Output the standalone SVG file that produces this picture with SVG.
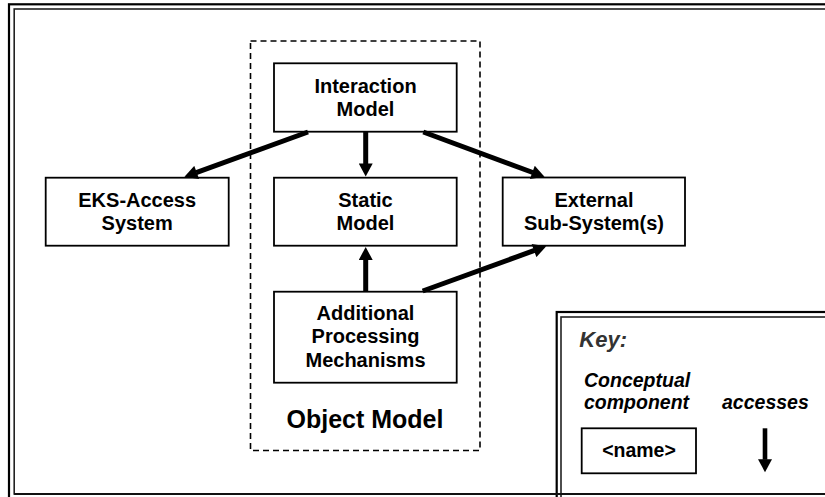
<svg xmlns="http://www.w3.org/2000/svg" width="825" height="497" viewBox="0 0 825 497">
  <defs>
    <style>
      .frame-outer { fill: none; stroke: #000; stroke-width: 2.2; }
      .frame-inner { fill: none; stroke: #222; stroke-width: 1.6; }
      .node rect { fill: #fff; stroke: #000; stroke-width: 1.8; }
      .label { font-family: "Liberation Sans", Arial, Helvetica, sans-serif; font-weight: bold; font-size: 20px; fill: #000; text-anchor: middle; }
      .group-box { fill: none; stroke: #000; stroke-width: 1.6; stroke-dasharray: 6 4; }
      .group-label { font-family: "Liberation Sans", Arial, Helvetica, sans-serif; font-weight: bold; font-size: 25px; fill: #000; text-anchor: middle; }
      .edge { stroke: #000; stroke-width: 5; fill: none; marker-end: url(#head); }
      .key-title { font-family: "Liberation Sans", Arial, Helvetica, sans-serif; font-weight: bold; font-style: italic; font-size: 22px; fill: #333; }
      .key-text { font-family: "Liberation Sans", Arial, Helvetica, sans-serif; font-weight: bold; font-style: italic; font-size: 19.5px; fill: #000; }
    </style>
    <marker id="head" markerUnits="userSpaceOnUse" markerWidth="14" markerHeight="14" viewBox="0 0 13 14" refX="0.5" refY="7" orient="auto">
      <path d="M0,0 L13,7 L0,14 Z" fill="#000"/>
    </marker>
  </defs>

  <rect width="825" height="497" fill="#fff"/>

  <!-- double-line page frame (runs off the right and bottom edges) -->
  <rect class="frame-outer" x="9" y="4.3" width="900" height="600"/>
  <rect class="frame-inner" x="14.2" y="9" width="900" height="485"/>

  <!-- Object Model grouping -->
  <g id="object-model">
    <rect class="group-box" x="250.5" y="41" width="229.5" height="409.5"/>
    <text class="group-label" x="365" y="428">Object Model</text>
  </g>

  <g id="interaction-model" class="node">
    <rect x="274" y="63.3" width="182.7" height="68.4"/>
    <text class="label" x="365.5" y="92.5">Interaction</text>
    <text class="label" x="365.5" y="116">Model</text>
  </g>

  <g id="static-model" class="node">
    <rect x="274" y="177.7" width="182.7" height="68"/>
    <text class="label" x="365.5" y="207">Static</text>
    <text class="label" x="365.5" y="230">Model</text>
  </g>

  <g id="additional-processing" class="node">
    <rect x="274" y="291.7" width="182.7" height="91"/>
    <text class="label" x="365.5" y="320">Additional</text>
    <text class="label" x="365.5" y="343.3">Processing</text>
    <text class="label" x="365.5" y="366.7">Mechanisms</text>
  </g>

  <g id="eks-access" class="node">
    <rect x="45.7" y="177.7" width="183" height="68"/>
    <text class="label" x="137.2" y="207">EKS-Access</text>
    <text class="label" x="137.2" y="230">System</text>
  </g>

  <g id="external-subsystems" class="node">
    <rect x="502.7" y="177.5" width="182.3" height="68.2"/>
    <text class="label" x="594" y="207">External</text>
    <text class="label" x="594" y="230">Sub-System(s)</text>
  </g>

  <!-- accesses relations -->
  <g id="connectors">
    <line class="edge" x1="308" y1="132" x2="196.2" y2="172.6"/>
    <line class="edge" x1="365.7" y1="132" x2="365.7" y2="164"/>
    <line class="edge" x1="423.3" y1="132" x2="532.8" y2="172.5"/>
    <line class="edge" x1="365.7" y1="292" x2="365.7" y2="259.5"/>
    <line class="edge" x1="422.7" y1="291" x2="534.5" y2="250.4"/>
  </g>

  <!-- legend -->
  <g id="key">
    <rect x="556.7" y="312" width="400" height="300" fill="#fff" class="frame-outer"/>
    <rect class="frame-inner" x="561" y="317" width="400" height="300"/>
    <line x1="14.2" y1="494" x2="825" y2="494" stroke="#111" stroke-width="2"/>
    <text class="key-title" x="579.3" y="347.3">Key:</text>
    <text class="key-text" x="584" y="386.7">Conceptual</text>
    <text class="key-text" x="584" y="409.3">component</text>
    <text class="key-text" x="722" y="409.3">accesses</text>
    <g id="key-node" class="node">
      <rect x="581.7" y="428.3" width="114.3" height="45"/>
      <text class="label" x="639" y="456.7" style="font-size:19.5px">&lt;name&gt;</text>
    </g>
    <line class="edge" x1="765" y1="428.3" x2="765" y2="459.7" style="stroke-width:4.6"/>
  </g>
</svg>
